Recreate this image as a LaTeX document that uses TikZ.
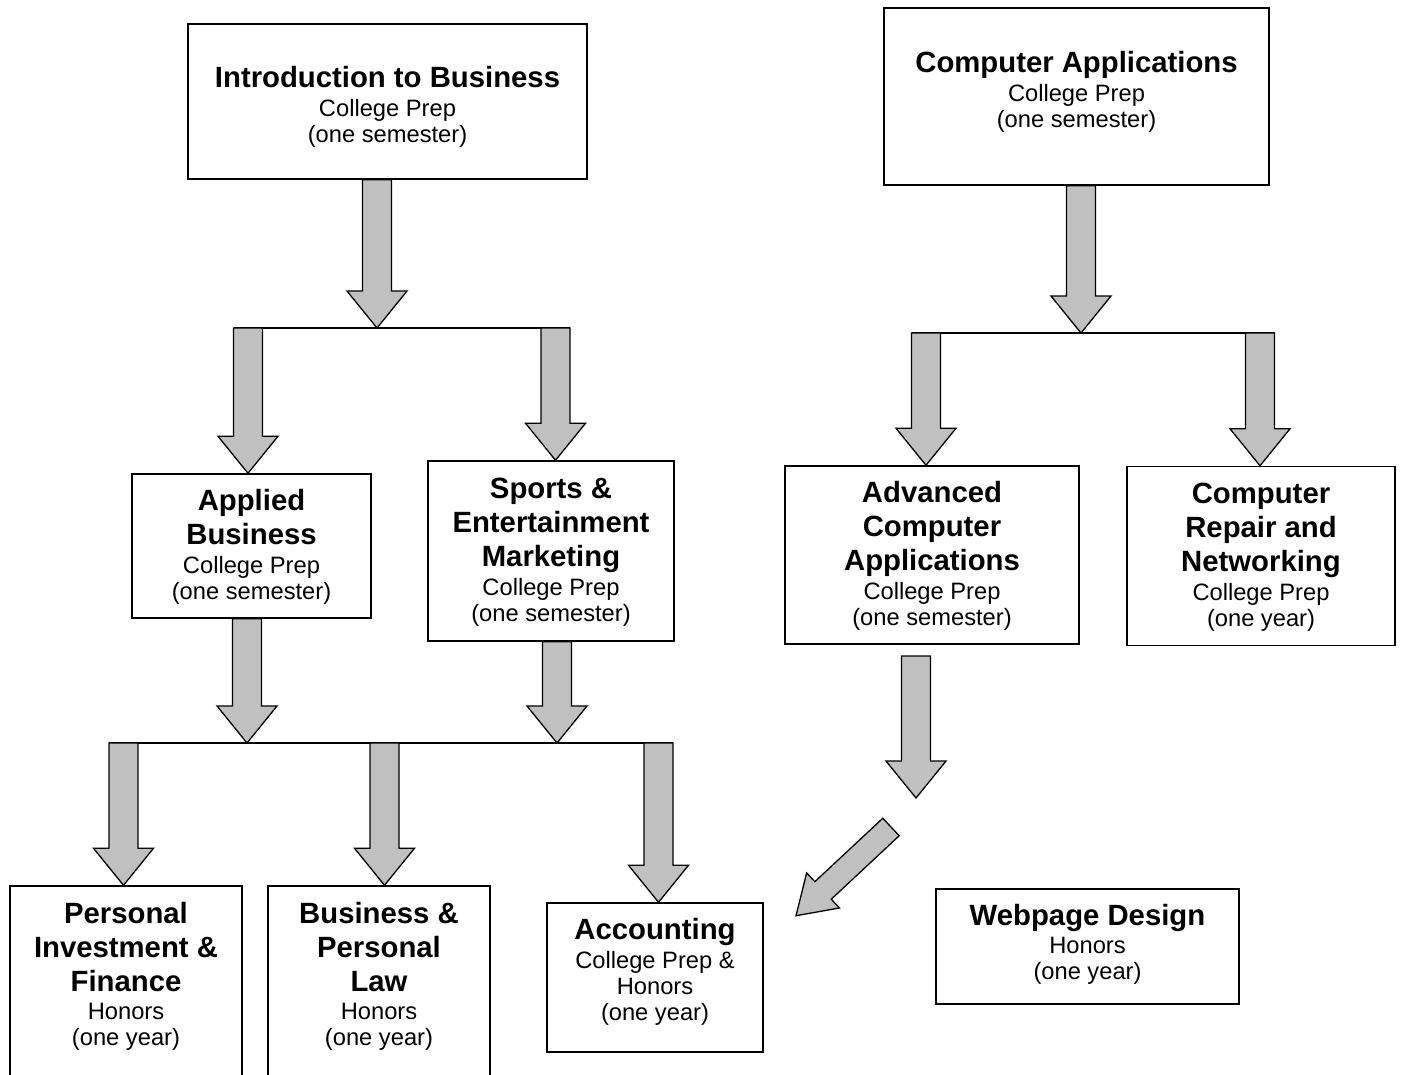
\documentclass[tikz,border=0pt]{standalone}
\usepackage{fontspec}
\setmainfont{Liberation Sans}
\usepackage{tikz}
\usetikzlibrary{calc}
\definecolor{blockgray}{RGB}{192,192,192}
\tikzstyle{course} = [draw,line width=1.5pt,inner sep=0pt,align=center,font=\fontsize{23.7}{26}\selectfont]
\tikzstyle{bar} = [line width=1.5pt]
\tikzstyle{block} = [draw=black,line width=1.3pt,fill=blockgray,line join=miter]
\newcommand{\ttl}[1]{{\fontsize{29.3}{33}\selectfont\bfseries\rule[-10.5pt]{0pt}{33pt}#1}}
\newcommand{\padtop}[1]{\rule{0pt}{#1}}
\newcommand{\padbot}[1]{\rule[-#1]{0pt}{0pt}}
\def\shafthw{14.5pt}
\def\headhw{30pt}
\def\headlen{37pt}
% fat grey arrow from #1 to #2
\newcommand{\blockarrow}[2]{%
  \coordinate (bh) at ($(#2)!\headlen!(#1)$);
  \path[block] ($(#1)!\shafthw!90:(#2)$) -- ($(bh)!\shafthw!90:(#2)$)
    -- ($(bh)!\headhw!90:(#2)$) -- (#2) -- ($(bh)!\headhw!-90:(#2)$)
    -- ($(bh)!\shafthw!-90:(#2)$) -- ($(#1)!\shafthw!-90:(#2)$) -- cycle;
}

\begin{document}
\begin{tikzpicture}[x=1pt,y=-1pt]
  \useasboundingbox (0,0) rectangle (1402,1074);
  % business courses
  \node[course,minimum width=399pt,minimum height=155pt] (intro) at (387.5,101.5)
    {\padtop{32.5pt}\ttl{Introduction to Business}\\ College Prep\\ (one semester)};
  \node[course,minimum width=239pt,minimum height=144pt] (applied) at (251.5,546)
    {\ttl{Applied}\\ \ttl{Business}\\ College Prep\\ (one semester)};
  \node[course,minimum width=246pt,minimum height=180pt] (sports) at (551,551)
    {\ttl{Sports \&}\\ \ttl{Entertainment}\\ \ttl{Marketing}\\ College Prep\\ (one semester)};
  \node[course,minimum width=232pt,minimum height=190pt] (persfin) at (126,981)
    {\ttl{Personal}\\ \ttl{Investment \&}\\ \ttl{Finance}\\ Honors\\ (one year)\padbot{15pt}};
  \node[course,minimum width=222pt,minimum height=190pt] (bizlaw) at (379,981)
    {\ttl{Business \&}\\ \ttl{Personal}\\ \ttl{Law}\\ Honors\\ (one year)\padbot{15pt}};
  \node[course,minimum width=216pt,minimum height=149pt] (account) at (655,977.5)
    {\ttl{Accounting}\\ College Prep \&\\ Honors\\ (one year)\padbot{17pt}};
  % computer courses
  \node[course,minimum width=385pt,minimum height=177pt] (compapp) at (1076.5,96.5)
    {\ttl{Computer Applications}\\ College Prep\\ (one semester)\padbot{15pt}};
  \node[course,minimum width=294pt,minimum height=178pt] (advanced) at (932,555)
    {\ttl{Advanced}\\ \ttl{Computer}\\ \ttl{Applications}\\ College Prep\\ (one semester)};
  \node[course,minimum width=268pt,minimum height=179pt] (repair) at (1261,556)
    {\ttl{Computer}\\ \ttl{Repair and}\\ \ttl{Networking}\\ College Prep\\ (one year)};
  \node[course,minimum width=303pt,minimum height=115pt] (webpage) at (1087.5,946.5)
    {\ttl{Webpage Design}\\ Honors\\ (one year)\padbot{11pt}};

  % joints on the bars
  \coordinate (j_1) at (377,328);
  \coordinate (j_2) at (248,328);
  \coordinate (j_3) at (555.5,328);
  \coordinate (j_4) at (247,743);
  \coordinate (j_5) at (557,743);
  \coordinate (j_6) at (123.5,743);
  \coordinate (j_7) at (384.5,743);
  \coordinate (j_8) at (658.5,743);
  \coordinate (j_9) at (1081,333);
  \coordinate (j_10) at (926,333);
  \coordinate (j_11) at (1260,333);
  \coordinate (adv_1) at (916,656);
  \coordinate (adv_2) at (916,798);
  \coordinate (diag_1) at (891,827);
  \coordinate (diag_2) at (796,915.7);

  \draw[bar] ($(j_2)+(-14.5,0)$) -- ($(j_3)+(14.5,0)$);
  \draw[bar] ($(j_6)+(-14.5,0)$) -- ($(j_8)+(14.5,0)$);
  \draw[bar] ($(j_10)+(-14.5,0)$) -- ($(j_11)+(14.5,0)$);

  \blockarrow{intro.south -| j_1}{j_1}
  \blockarrow{j_2}{applied.north -| j_2}
  \blockarrow{j_3}{sports.north -| j_3}
  \blockarrow{applied.south -| j_4}{j_4}
  \blockarrow{sports.south -| j_5}{j_5}
  \blockarrow{j_6}{persfin.north -| j_6}
  \blockarrow{j_7}{bizlaw.north -| j_7}
  \blockarrow{j_8}{account.north -| j_8}
  \blockarrow{compapp.south -| j_9}{j_9}
  \blockarrow{j_10}{advanced.north -| j_10}
  \blockarrow{j_11}{repair.north -| j_11}
  \blockarrow{adv_1}{adv_2}
  {\def\shafthw{12pt}\def\headhw{24pt}\blockarrow{diag_1}{diag_2}}
\end{tikzpicture}
\end{document}
